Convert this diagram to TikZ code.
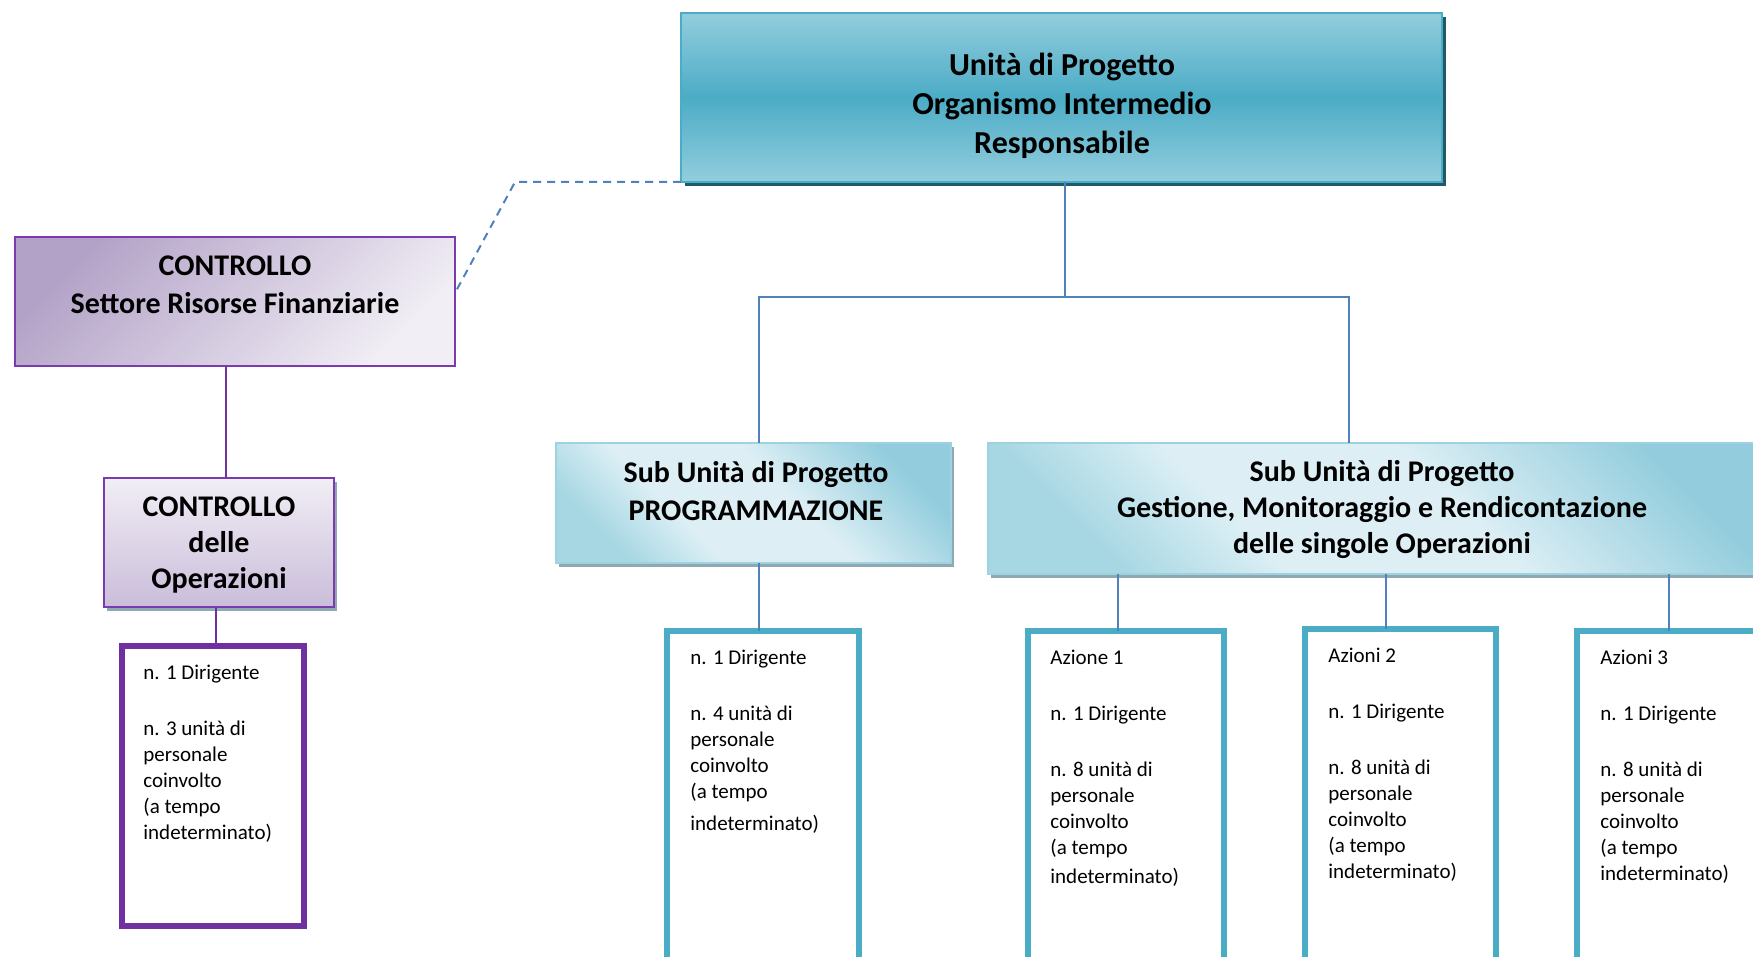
\documentclass[tikz,border=0pt]{standalone}
\usepackage{fontspec}
\setmainfont{Carlito}
\usetikzlibrary{shadows}
\definecolor{tealdark}{HTML}{4BACC6}
\definecolor{teallight}{HTML}{93CDDD}
\definecolor{tealend}{HTML}{A6D7E3}
\definecolor{tealpale}{HTML}{DDEFF5}
\definecolor{tealshadow}{HTML}{215968}
\definecolor{greyshadow}{HTML}{8FA8B1}
\definecolor{subborder}{HTML}{9DD3E1}
\definecolor{purpleline}{HTML}{7030A0}
\definecolor{purpleborder}{HTML}{7B3AAE}
\definecolor{purplemid}{HTML}{B3A2C7}
\definecolor{purplepale}{HTML}{F1EEF5}
\definecolor{purplelow}{HTML}{CABDDA}
\definecolor{linkblue}{HTML}{4F81BD}
\pgfdeclareverticalshading{subshade}{100bp}{color(0bp)=(tealend); color(25bp)=(tealend); color(38bp)=(tealpale); color(56bp)=(tealpale); color(75bp)=(teallight); color(100bp)=(teallight)}
\begin{document}
\begin{tikzpicture}[x=0.5pt,y=-0.5pt,
  boxbase/.style={anchor=north west, inner sep=0pt, outer sep=0pt},
  topbox/.style={boxbase, draw=tealdark, line width=1.2pt,
    top color=teallight, bottom color=teallight, middle color=tealdark,
    general shadow={fill=tealshadow, shadow xshift=1.8pt, shadow yshift=-2.2pt}},
  subbox/.style={boxbase, draw=subborder, line width=1.2pt,
    shading=subshade, shading angle=-45,
    general shadow={fill=greyshadow, shadow xshift=1.5pt, shadow yshift=-2pt}},
  ctrlbox/.style={boxbase, draw=purpleborder, line width=1.2pt,
    top color=purplemid, bottom color=purplepale, shading angle=45},
  cdobox/.style={boxbase, draw=purpleborder, line width=1.2pt,
    top color=purplepale, bottom color=purplelow,
    general shadow={fill=greyshadow, shadow xshift=1.5pt, shadow yshift=-2pt}},
  listbox/.style={boxbase, draw=tealdark, line width=3pt, fill=white},
  plistbox/.style={boxbase, draw=purpleline, line width=3pt, fill=white},
  headtext/.style={align=center, inner sep=0pt, font=\fontsize{15}{19}\selectfont\bfseries},
  headtextb/.style={align=center, inner sep=0pt, font=\fontsize{15}{18}\selectfont\bfseries},
  bigtext/.style={align=center, inner sep=0pt, font=\fontsize{16}{19.5}\selectfont\bfseries},
  listtext/.style={anchor=north west, align=left, inner sep=0pt, font=\fontsize{10.5}{13}\selectfont},
  blueconn/.style={draw=linkblue, line width=1.1pt},
  purpleconn/.style={draw=purpleline, line width=1.1pt},
  dashconn/.style={draw=linkblue, line width=1pt, dash pattern=on 4pt off 3pt}
]
\useasboundingbox (0,0) rectangle (1753,957);

% boxes
\node[topbox, minimum width=380.5pt, minimum height=84.5pt] (top) at (681,13) {};
\node[ctrlbox, minimum width=220pt, minimum height=64.5pt] (ctrl) at (15,237) {};
\node[cdobox, minimum width=115pt, minimum height=64.5pt] (cdo) at (104,478) {};
\node[subbox, minimum width=197.5pt, minimum height=60pt] (prog) at (556,443) {};
\node[subbox, minimum width=394pt, minimum height=65.5pt] (gest) at (988,443) {};

\node[plistbox, minimum width=91pt, minimum height=140pt] (plist) at (122,646) {};
\node[listbox, minimum width=96pt, minimum height=170pt] (proglist) at (667,631) {};
\node[listbox, minimum width=98pt, minimum height=170pt] (az1) at (1028,631) {};
\node[listbox, minimum width=95.5pt, minimum height=170pt] (az2) at (1305,629) {};
\node[listbox, minimum width=98pt, minimum height=170pt] (az3) at (1577,631) {};

% heading texts
\node[bigtext] (top-t) at (1062,106) {Unità di Progetto\\Organismo Intermedio\\Responsabile};
\node[headtext] (ctrl-t) at (235,285) {CONTROLLO\\Settore Risorse Finanziarie};
\node[headtextb] (cdo-t) at (219,545) {CONTROLLO\\delle\\Operazioni};
\node[headtext] (prog-t) at (756,491) {Sub Unità di Progetto\\PROGRAMMAZIONE};
\node[headtextb] (gest-t) at (1382,510) {Sub Unità di Progetto\\Gestione, Monitoraggio e Rendicontazione\\delle singole Operazioni};

% list texts
\node[listtext] (plist-t) at (143,665) {n. 1 Dirigente\\[15pt]n. 3 unità di\\personale\\coinvolto\\(a tempo\\indeterminato)};
\node[listtext] (proglist-t) at (690,650) {n. 1 Dirigente\\[15pt]n. 4 unità di\\personale\\coinvolto\\(a tempo\\[3pt]indeterminato)};
\node[listtext] (az1-t) at (1050,650) {Azione 1\\[15pt]n. 1 Dirigente\\[15pt]n. 8 unità di\\personale\\coinvolto\\(a tempo\\[1.5pt]indeterminato)};
\node[listtext] (az2-t) at (1328,648) {Azioni 2\\[15pt]n. 1 Dirigente\\[15pt]n. 8 unità di\\personale\\coinvolto\\(a tempo\\indeterminato)};
\node[listtext] (az3-t) at (1600,650) {Azioni 3\\[15pt]n. 1 Dirigente\\[15pt]n. 8 unità di\\personale\\coinvolto\\(a tempo\\indeterminato)};

% connection points
\coordinate (bus) at (1065,297);
\coordinate (progtop) at (759,443);
\coordinate (gesttop) at (1349,443);
\coordinate (g1) at (1118,574);
\coordinate (g2) at (1386,574);
\coordinate (g3) at (1669,574);
\coordinate (dashbend) at (515,182);
\coordinate (pc) at (216,607);

% blue tree
\draw[blueconn] (top.south -| bus) -- (bus);
\draw[blueconn] (progtop) |- (bus) -| (gesttop);
\draw[blueconn] (progtop |- prog.south) -- (progtop |- proglist.north);
\draw[blueconn] (g1) -- (g1 |- az1.north);
\draw[blueconn] (g2) -- (g2 |- az2.north);
\draw[blueconn] (g3) -- (g3 |- az3.north);

% purple chain
\draw[purpleconn] (226,0 |- ctrl.south) -- (226,0 |- cdo.north);
\draw[purpleconn] (pc |- cdo.south) -- (pc |- plist.north);

% dashed link
\draw[dashconn] (top.south west) -- (dashbend) -- (ctrl.east |- 0,293);
\end{tikzpicture}
\end{document}
